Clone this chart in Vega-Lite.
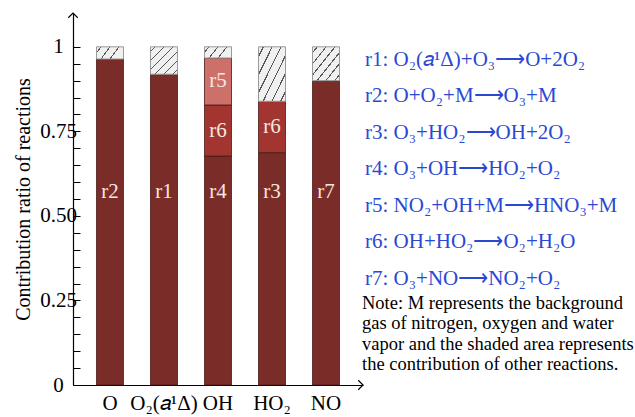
{
  "$schema": "https://vega.github.io/schema/vega-lite/v6.json",
  "width": 290,
  "height": 372,
  "autosize": {"type": "none"},
  "padding": {"left": 73, "top": 13, "right": 272, "bottom": 32},
  "background": "white",
  "config": {"view": {"stroke": null}, "font": "Liberation Serif"},
  "datasets": {
    "main": [
      {"species": "O", "reaction": "r2", "rank": 1, "value": 0.964},
      {"species": "O", "reaction": "other", "rank": 4, "value": 0.036},
      {"species": "O₂(𝑎¹Δ)", "reaction": "r1", "rank": 1, "value": 0.919},
      {"species": "O₂(𝑎¹Δ)", "reaction": "other", "rank": 4, "value": 0.081},
      {"species": "OH", "reaction": "r4", "rank": 1, "value": 0.677},
      {"species": "OH", "reaction": "r6", "rank": 2, "value": 0.151},
      {"species": "OH", "reaction": "r5", "rank": 3, "value": 0.139},
      {"species": "OH", "reaction": "other", "rank": 4, "value": 0.033},
      {"species": "HO₂", "reaction": "r3", "rank": 1, "value": 0.687},
      {"species": "HO₂", "reaction": "r6", "rank": 2, "value": 0.152},
      {"species": "HO₂", "reaction": "other", "rank": 4, "value": 0.161},
      {"species": "NO", "reaction": "r7", "rank": 1, "value": 0.9},
      {"species": "NO", "reaction": "other", "rank": 4, "value": 0.1}
    ],
    "reactions": [
      {"id": "r1", "equation": "r1: O₂(𝑎¹Δ)+O₃⟶O+2O₂"},
      {"id": "r2", "equation": "r2: O+O₂+M⟶O₃+M"},
      {"id": "r3", "equation": "r3: O₃+HO₂⟶OH+2O₂"},
      {"id": "r4", "equation": "r4: O₃+OH⟶HO₂+O₂"},
      {"id": "r5", "equation": "r5: NO₂+OH+M⟶HNO₃+M"},
      {"id": "r6", "equation": "r6: OH+HO₂⟶O₂+H₂O"},
      {"id": "r7", "equation": "r7: O₃+NO⟶NO₂+O₂"}
    ]
  },
  "layer": [
    {
      "data": {"name": "main"},
      "transform": [
        {"stack": "value", "groupby": ["species"], "sort": [{"field": "rank", "order": "ascending"}], "as": ["y0", "y1"]},
        {"filter": "datum.rank < 4"}
      ],
      "mark": {"type": "bar", "stroke": "#4a1a17", "strokeWidth": 0.8},
      "encoding": {
        "x": {
          "field": "species", "type": "nominal",
          "sort": ["O", "O₂(𝑎¹Δ)", "OH", "HO₂", "NO"],
          "scale": {"paddingInner": 0.5, "paddingOuter": 0.435},
          "axis": {"title": null, "ticks": false, "labelAngle": 0, "labelFontSize": 21, "labelFont": "Liberation Serif", "labelColor": "black", "labelPadding": 7, "domainColor": "black", "domainWidth": 1.2}
        },
        "y": {
          "field": "y0", "type": "quantitative",
          "scale": {"domain": [0, 1.1], "nice": false},
          "axis": {
            "values": [0, 0.05, 0.1, 0.15, 0.2, 0.25, 0.3, 0.35, 0.4, 0.45, 0.5, 0.55, 0.6, 0.65, 0.7, 0.75, 0.8, 0.85, 0.9, 0.95, 1],
            "labelExpr": "datum.value == 0 ? '0' : datum.value == 1 ? '1' : (abs(datum.value * 4 - round(datum.value * 4)) < 0.000001 ? format(datum.value, '.2f') : '')",
            "labelOverlap": false, "labelAlign": "center",
            "tickSize": -7, "tickColor": "black", "domainColor": "black", "domainWidth": 1.2,
            "labelFontSize": 21, "labelFont": "Liberation Serif", "labelColor": "black", "labelPadding": 22, "labelFlush": false,
            "grid": false,
            "title": "Contribution ratio of reactions", "titleFontSize": 20, "titleFont": "Liberation Serif", "titleFontWeight": "normal", "titleColor": "black", "titlePadding": 6
          }
        },
        "y2": {"field": "y1"},
        "color": {"field": "rank", "type": "ordinal", "scale": {"domain": [1, 2, 3], "range": ["#7a2c28", "#a33530", "#cd706a"]}, "legend": null}
      }
    },
    {
      "data": {"name": "main"},
      "transform": [
        {"stack": "value", "groupby": ["species"], "sort": [{"field": "rank", "order": "ascending"}], "as": ["y0", "y1"]},
        {"filter": "datum.rank == 4"}
      ],
      "mark": {"type": "bar", "stroke": "#9a9a9a", "strokeWidth": 1},
      "encoding": {
        "x": {"field": "species", "type": "nominal", "sort": ["O", "O₂(𝑎¹Δ)", "OH", "HO₂", "NO"]},
        "y": {
          "field": "y0", "type": "quantitative",
          "axis": {
            "values": [0, 0.05, 0.1, 0.15, 0.2, 0.25, 0.3, 0.35, 0.4, 0.45, 0.5, 0.55, 0.6, 0.65, 0.7, 0.75, 0.8, 0.85, 0.9, 0.95, 1],
            "labelExpr": "datum.value == 0 ? '0' : datum.value == 1 ? '1' : (abs(datum.value * 4 - round(datum.value * 4)) < 0.000001 ? format(datum.value, '.2f') : '')",
            "labelOverlap": false, "labelAlign": "center",
            "tickSize": -7, "tickColor": "black", "domainColor": "black", "domainWidth": 1.2,
            "labelFontSize": 21, "labelFont": "Liberation Serif", "labelColor": "black", "labelPadding": 22, "labelFlush": false,
            "grid": false,
            "title": "Contribution ratio of reactions", "titleFontSize": 20, "titleFont": "Liberation Serif", "titleFontWeight": "normal", "titleColor": "black", "titlePadding": 6
          }
        },
        "y2": {"field": "y1"},
        "fill": {
          "condition": {
            "test": "datum.value < 0.05",
            "value": {
              "gradient": "linear", "x1": 0, "y1": 0, "x2": 1, "y2": 0.333,
              "stops": [
                {"offset": 0, "color": "#f0f0f0"},
                {"offset": 0.13, "color": "#f0f0f0"}, {"offset": 0.13, "color": "#555555"}, {"offset": 0.17, "color": "#555555"}, {"offset": 0.17, "color": "#f0f0f0"},
                {"offset": 0.43, "color": "#f0f0f0"}, {"offset": 0.43, "color": "#555555"}, {"offset": 0.47, "color": "#555555"}, {"offset": 0.47, "color": "#f0f0f0"},
                {"offset": 0.73, "color": "#f0f0f0"}, {"offset": 0.73, "color": "#555555"}, {"offset": 0.77, "color": "#555555"}, {"offset": 0.77, "color": "#f0f0f0"},
                {"offset": 1, "color": "#f0f0f0"}
              ]
            }
          },
          "value": {
            "gradient": "linear", "x1": 0, "y1": 0, "x2": 1, "y2": 1,
            "stops": [
              {"offset": 0, "color": "#f0f0f0"},
              {"offset": 0.075, "color": "#f0f0f0"}, {"offset": 0.075, "color": "#555555"}, {"offset": 0.1, "color": "#555555"}, {"offset": 0.1, "color": "#f0f0f0"},
              {"offset": 0.24, "color": "#f0f0f0"}, {"offset": 0.24, "color": "#555555"}, {"offset": 0.265, "color": "#555555"}, {"offset": 0.265, "color": "#f0f0f0"},
              {"offset": 0.405, "color": "#f0f0f0"}, {"offset": 0.405, "color": "#555555"}, {"offset": 0.43, "color": "#555555"}, {"offset": 0.43, "color": "#f0f0f0"},
              {"offset": 0.57, "color": "#f0f0f0"}, {"offset": 0.57, "color": "#555555"}, {"offset": 0.595, "color": "#555555"}, {"offset": 0.595, "color": "#f0f0f0"},
              {"offset": 0.735, "color": "#f0f0f0"}, {"offset": 0.735, "color": "#555555"}, {"offset": 0.76, "color": "#555555"}, {"offset": 0.76, "color": "#f0f0f0"},
              {"offset": 0.9, "color": "#f0f0f0"}, {"offset": 0.9, "color": "#555555"}, {"offset": 0.925, "color": "#555555"}, {"offset": 0.925, "color": "#f0f0f0"},
              {"offset": 1, "color": "#f0f0f0"}
            ]
          }
        }
      }
    },
    {
      "data": {"name": "main"},
      "transform": [
        {"stack": "value", "groupby": ["species"], "sort": [{"field": "rank", "order": "ascending"}], "as": ["y0", "y1"]},
        {"filter": "datum.rank < 4"},
        {"calculate": "datum.y0 == 0 ? 0.57 : (datum.y0 + datum.y1) / 2", "as": "mid"}
      ],
      "mark": {"type": "text", "font": "Liberation Serif", "fontSize": 21, "color": "#f4e6e4", "baseline": "middle", "align": "center"},
      "encoding": {
        "x": {"field": "species", "type": "nominal", "sort": ["O", "O₂(𝑎¹Δ)", "OH", "HO₂", "NO"]},
        "y": {
          "field": "mid", "type": "quantitative",
          "axis": {
            "values": [0, 0.05, 0.1, 0.15, 0.2, 0.25, 0.3, 0.35, 0.4, 0.45, 0.5, 0.55, 0.6, 0.65, 0.7, 0.75, 0.8, 0.85, 0.9, 0.95, 1],
            "labelExpr": "datum.value == 0 ? '0' : datum.value == 1 ? '1' : (abs(datum.value * 4 - round(datum.value * 4)) < 0.000001 ? format(datum.value, '.2f') : '')",
            "labelOverlap": false, "labelAlign": "center",
            "tickSize": -7, "tickColor": "black", "domainColor": "black", "domainWidth": 1.2,
            "labelFontSize": 21, "labelFont": "Liberation Serif", "labelColor": "black", "labelPadding": 22, "labelFlush": false,
            "grid": false,
            "title": "Contribution ratio of reactions", "titleFontSize": 20, "titleFont": "Liberation Serif", "titleFontWeight": "normal", "titleColor": "black", "titlePadding": 6
          }
        },
        "text": {"field": "reaction"}
      }
    },
    {
      "data": {"name": "reactions"},
      "mark": {"type": "point", "opacity": 0, "size": 0},
      "encoding": {
        "shape": {
          "field": "equation", "type": "nominal",
          "legend": {
            "orient": "none", "legendX": 289, "legendY": 36, "direction": "vertical",
            "symbolSize": 0, "symbolOpacity": 0, "symbolStrokeWidth": 0, "labelOffset": -18,
            "labelFont": "Liberation Serif", "labelFontSize": 21, "labelColor": "#2b48d3", "labelLimit": 400,
            "rowPadding": 14.5, "padding": 0,
            "title": ["Note: M represents the background", "gas of nitrogen, oxygen and water", "vapor and the shaded area represents", "the contribution of other reactions."],
            "titleOrient": "bottom", "titleAnchor": "start", "titleAlign": "left",
            "titleFont": "Liberation Serif", "titleFontSize": 18.5, "titleFontWeight": "normal", "titleColor": "black",
            "titleLimit": 400, "titleLineHeight": 20.3, "titlePadding": 5
          }
        }
      }
    },
    {
      "data": {"values": [{"a": 1}]},
      "mark": {"type": "point", "shape": "M -1 1 L 0 0 L 1 1", "size": 90, "filled": false, "stroke": "black", "strokeWidth": 1.2, "opacity": 1},
      "encoding": {"x": {"value": 0}, "y": {"value": 0}}
    },
    {
      "data": {"values": [{"a": 1}]},
      "mark": {"type": "point", "shape": "M -1 -1 L 0 0 L -1 1", "size": 90, "filled": false, "stroke": "black", "strokeWidth": 1.2, "opacity": 1},
      "encoding": {"x": {"value": "width"}, "y": {"value": "height"}}
    }
  ]
}
